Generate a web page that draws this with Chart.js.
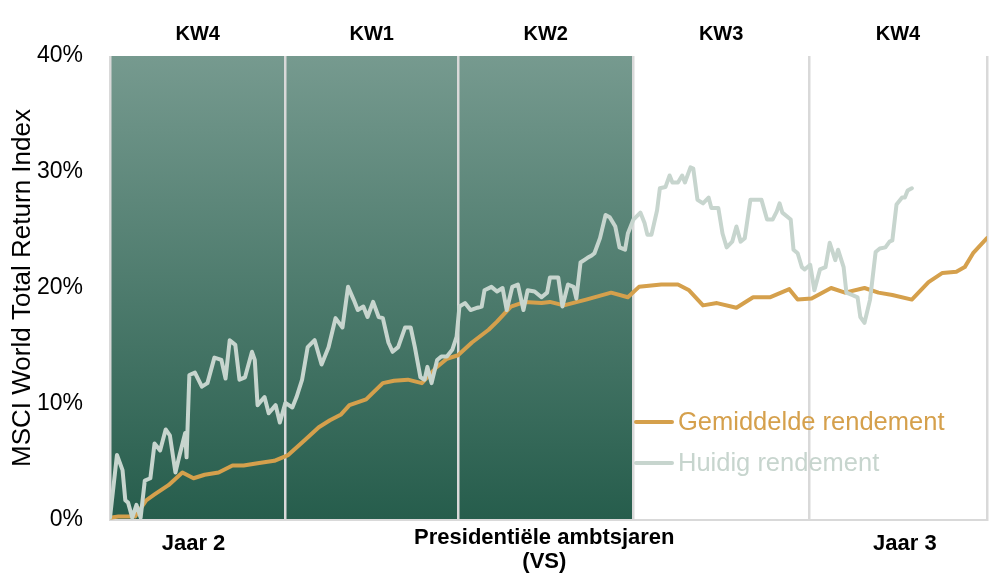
<!DOCTYPE html>
<html>
<head>
<meta charset="utf-8">
<script src="https://cdn.jsdelivr.net/npm/chart.js@4.4.1/dist/chart.umd.min.js"></script>
<style>
  html, body { margin: 0; padding: 0; background: #ffffff; }
  #wrap { width: 996px; height: 573px; position: relative; }
</style>
</head>
<body>
<div id="wrap"><canvas id="c" width="996" height="573"></canvas></div>
<script>
// ---- Data (x = trading days since start of Jaar 2 KW4, y = cumulative return in %) ----
const quarterLabels = ['KW4', 'KW1', 'KW2', 'KW3', 'KW4'];
const quarterBounds = [0, 63, 125, 188, 251, 315];
const highlightEndDay = 188;
const yTickValues = [0, 10, 20, 30, 40];
const seriesNames = ['Gemiddelde rendement', 'Huidig rendement'];
const bottomLabels = ['Jaar 2', 'Presidentiële ambtsjaren', '(VS)', 'Jaar 3'];

const avgDays = [0, 3, 6, 9, 13, 16, 21, 26, 30, 34, 39, 44, 48, 53, 59, 64, 70, 75, 79, 83, 86,
  92, 98, 102, 107, 112, 117, 121, 125, 130, 136, 139, 144, 149, 155, 158, 163, 171, 180, 186, 190,
  198, 204, 208, 213, 218, 225, 231, 237, 244, 247, 252, 259, 264, 271, 276, 281, 288, 294, 299,
  304, 307, 310, 315];
const avgValues = [0.2, 0.3, 0.3, 0.3, 1.7, 2.2, 3.0, 4.1, 3.6, 3.9, 4.1, 4.7, 4.7, 4.9, 5.1, 5.6, 6.9, 8.0, 8.6, 9.1, 9.9,
  10.4, 11.8, 12.0, 12.1, 11.8, 13.1, 13.9, 14.2, 15.3, 16.4, 17.1, 18.4, 18.8, 18.7, 18.8, 18.5, 19.0, 19.6, 19.2, 20.1,
  20.3, 20.3, 19.8, 18.5, 18.7, 18.3, 19.2, 19.2, 19.9, 19.0, 19.1, 20.0, 19.6, 20.0, 19.6, 19.4, 19.0, 20.5, 21.3,
  21.4, 21.8, 23.0, 24.3];

const curDays = [0, 2.5, 4.5, 5.5, 6.5, 8, 9.5, 11, 12.5, 14.5, 16, 18, 20, 21.5, 23.5, 25, 27, 27.5, 28.5, 30.5,
  33, 35, 37.5, 40, 41.5, 43, 45, 46.5, 48.5, 51, 52, 53, 55.5, 57, 59.5, 61, 63, 65.5, 67, 69, 71, 73.5, 76, 78.5,
  81, 83.5, 85.5, 87.5, 89, 91, 92.5, 94.5, 96.5, 98, 100, 101.5, 103.5, 106, 108, 109.5, 111.5, 113, 114, 115.5,
  117.5, 119, 121, 123, 124.5, 125.5, 127.5, 129.5, 132, 133.5, 134.5, 137, 139, 141, 142.5, 144.5, 146.5, 148.5,
  150, 152.5, 155, 157, 158, 161, 162.5, 164.5, 166.5, 167.5, 169, 171.5, 173, 174, 176, 178, 179.5, 181.5, 183,
  185, 186, 188, 190.5, 192, 193, 194.5, 196.5, 197.5, 199.5, 201, 202, 204, 205.5, 206.5, 208.5, 209.5, 211, 213,
  215, 216, 218.5, 220, 221.5, 223.5, 225, 226.5, 228, 230, 231.5, 234, 236, 238, 239.5, 240.5, 241.5, 244.5,
  245.5, 247, 248.5, 249.5, 251.5, 253, 255, 257, 258.5, 260.5, 261.5, 263.5, 264.5, 266.5, 268.5, 269.5, 271,
  273, 275, 276.5, 278.5, 280, 281, 282.5, 284.5, 285.5, 286.5, 288];
const curValues = [0.2, 5.6, 4.3, 1.7, 1.5, 0.2, 1.3, 0.2, 3.4, 3.6, 6.6, 6.0, 7.8, 7.3, 4.1, 5.6, 7.5, 5.4, 12.5, 12.7,
  11.5, 11.8, 14.0, 13.8, 12.2, 15.5, 15.1, 12.1, 12.3, 14.5, 13.8, 9.9, 10.6, 9.2, 9.9, 8.4, 10.1, 9.7, 10.6, 12.1,
  14.9, 15.5, 13.4, 14.9, 17.4, 16.6, 20.1, 19.0, 18.1, 18.4, 17.5, 18.8, 17.5, 17.4, 15.3, 14.5, 14.9, 16.6, 16.6,
  14.9, 12.3, 12.1, 13.2, 11.8, 13.8, 14.1, 14.1, 14.7, 15.8, 18.4, 18.7, 18.1, 18.3, 18.4, 19.8, 20.1, 19.7, 20.0,
  18.1, 20.1, 20.3, 18.1, 19.8, 19.7, 19.2, 19.6, 20.9, 20.9, 18.4, 20.3, 20.1, 19.1, 22.2, 22.6, 22.8, 23.0, 24.3,
  26.3, 26.1, 25.3, 23.5, 23.3, 24.7, 25.9, 26.5, 25.6, 24.6, 24.6, 26.7, 28.6, 28.7, 29.7, 29.1, 29.1, 29.7, 29.1,
  30.4, 30.3, 27.6, 27.3, 27.8, 26.9, 26.9, 24.7, 23.5, 24.0, 25.3, 24.0, 24.3, 27.6, 27.6, 27.6, 25.9, 25.9, 26.6,
  27.3, 26.5, 25.9, 23.3, 23.0, 21.8, 21.6, 22.0, 19.8, 21.6, 21.8, 23.9, 22.4, 23.3, 21.8, 19.6, 19.4, 19.2, 17.5,
  17.0, 19.0, 23.1, 23.4, 23.5, 24.0, 24.1, 27.2, 27.8, 27.8, 28.4, 28.6];

const GOLD = '#d5a04c';
const SAGE = '#c7d5ce';

function toPoints(xs, ys) { return xs.map((x, i) => ({ x: x, y: ys[i] })); }

const decorPlugin = {
  id: 'decor',
  beforeDraw(chart) {
    const { ctx, chartArea } = chart;
    const xs = chart.scales.x;
    const x0 = xs.getPixelForValue(quarterBounds[0]);
    const x1 = xs.getPixelForValue(highlightEndDay);
    const g = ctx.createLinearGradient(0, chartArea.top, 0, chartArea.bottom);
    g.addColorStop(0, '#769a8f');
    g.addColorStop(1, '#265d4c');
    ctx.save();
    ctx.fillStyle = g;
    ctx.fillRect(x0, chartArea.top, x1 - x0, chartArea.bottom - chartArea.top);
    ctx.restore();
  },
  afterDraw(chart) {
    const { ctx, chartArea } = chart;
    const xs = chart.scales.x;
    ctx.save();
    // quarter labels on top
    ctx.fillStyle = '#000000';
    ctx.font = 'bold 20px "Liberation Sans", Arial, sans-serif';
    ctx.textAlign = 'center';
    ctx.textBaseline = 'middle';
    quarterLabels.forEach((lab, i) => {
      const mid = (xs.getPixelForValue(quarterBounds[i]) + xs.getPixelForValue(quarterBounds[i + 1])) / 2;
      ctx.fillText(lab, mid, 34);
    });
    // bottom labels
    ctx.font = 'bold 22px "Liberation Sans Narrow", "Arial Narrow", "Liberation Sans", sans-serif';
    ctx.fillText(bottomLabels[0], xs.getPixelForValue(30), chartArea.bottom + 24);
    ctx.fillText(bottomLabels[1], xs.getPixelForValue(156), chartArea.bottom + 18);
    ctx.fillText(bottomLabels[2], xs.getPixelForValue(156), chartArea.bottom + 42);
    ctx.fillText(bottomLabels[3], xs.getPixelForValue(285.5), chartArea.bottom + 24);
    // legend
    ctx.font = '25.5px "Liberation Sans", Arial, sans-serif';
    ctx.textAlign = 'left';
    const lx = chartArea.left + 526;
    const ly = [422, 463];
    chart.data.datasets.forEach((ds, i) => {
      ctx.strokeStyle = ds.borderColor;
      ctx.lineWidth = 4;
      ctx.lineCap = 'round';
      ctx.beginPath();
      ctx.moveTo(lx, ly[i]);
      ctx.lineTo(lx + 36, ly[i]);
      ctx.stroke();
      ctx.fillStyle = ds.borderColor;
      ctx.fillText(ds.label, lx + 42, ly[i] + 1);
    });
    ctx.restore();
  }
};

new Chart(document.getElementById('c'), {
  type: 'line',
  data: {
    datasets: [
      { label: seriesNames[0], data: toPoints(avgDays, avgValues), borderColor: GOLD, backgroundColor: GOLD,
        borderWidth: 4, pointRadius: 0, tension: 0, order: 2, borderJoinStyle: 'round', borderCapStyle: 'round' },
      { label: seriesNames[1], data: toPoints(curDays, curValues), borderColor: SAGE, backgroundColor: SAGE,
        borderWidth: 4, pointRadius: 0, tension: 0, order: 1, borderJoinStyle: 'round', borderCapStyle: 'round' }
    ]
  },
  options: {
    responsive: false,
    animation: false,
    layout: { padding: { top: 56, bottom: 53, left: 0, right: 9 } },
    plugins: { legend: { display: false }, tooltip: { enabled: false } },
    scales: {
      x: {
        type: 'linear', min: 0, max: 315,
        afterBuildTicks: s => { s.ticks = quarterBounds.map(v => ({ value: v })); },
        afterFit: s => { s.height = 0; },
        ticks: { display: false },
        grid: { display: true, color: '#d9d9d9', lineWidth: 2.5, drawTicks: false },
        border: { display: true, color: '#d9d9d9', width: 2 }
      },
      y: {
        min: 0, max: 40,
        afterBuildTicks: s => { s.ticks = yTickValues.map(v => ({ value: v })); },
        afterFit: s => { s.width = 110; },
        grid: { display: false, drawTicks: false },
        border: { display: false },
        ticks: { padding: 27, color: '#000000', font: { size: 23, family: '"Liberation Sans", Arial, sans-serif' },
          callback: v => v + '%' },
        title: { display: true, text: 'MSCI World Total Return Index', color: '#000000',
          font: { size: 26, family: '"Liberation Sans", Arial, sans-serif' }, padding: { top: 7, bottom: 0 } }
      }
    }
  },
  plugins: [decorPlugin]
});
</script>
</body>
</html>
